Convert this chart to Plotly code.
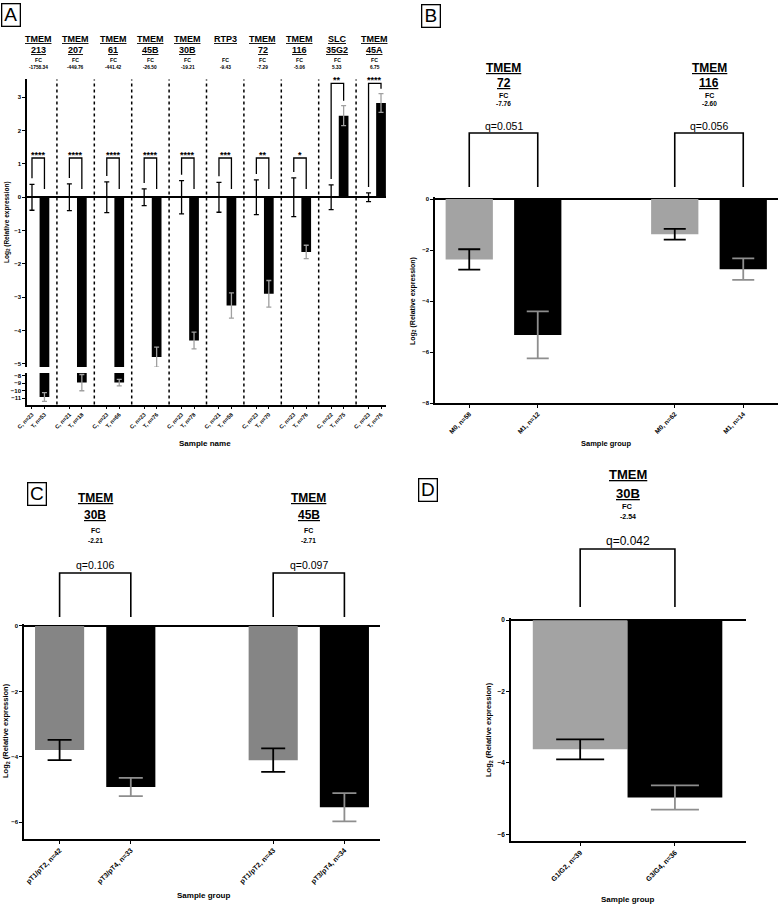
import plotly.graph_objects as go

W, H = 778, 905
FONT = "Liberation Sans, Arial, sans-serif"

# ---------------- Panel A data ----------------
a_gene_top = ["TMEM", "TMEM", "TMEM", "TMEM", "TMEM", "RTP3", "TMEM", "TMEM", "SLC", "TMEM"]
a_gene_bottom = ["213", "207", "61", "45B", "30B", "", "72", "116", "35G2", "45A"]
a_fc = ["-1758.34", "-449.76", "-441.42", "-26.50", "-19.21", "-9.43", "-7.29", "-5.06", "5.33", "6.75"]
a_ctrl_labels = ["C, n=23", "C, n=21", "C, n=23", "C, n=23", "C, n=23",
                 "C, n=21", "C, n=23", "C, n=23", "C, n=22", "C, n=23"]
a_tum_labels = ["T, n=53", "T, n=18", "T, n=66", "T, n=76", "T, n=78",
                "T, n=58", "T, n=70", "T, n=76", "T, n=75", "T, n=76"]
a_ctrl_mean = [0, 0, 0, 0, 0, 0, 0, 0, 0, 0]
a_ctrl_err = [0.39, 0.40, 0.46, 0.25, 0.50, 0.45, 0.52, 0.58, 0.37, 0.13]
a_tum_mean = [-10.85, -8.9, -8.9, -4.8, -4.3, -3.25, -2.9, -1.64, 2.45, 2.83]
a_tum_err = [0.6, 1.1, 0.45, 0.3, 0.25, 0.38, 0.4, 0.2, 0.3, 0.28]
a_stars = ["****", "****", "****", "****", "****", "***", "**", "*", "**", "****"]
a_bracket_top = [1.18, 1.18, 1.18, 1.18, 1.18, 1.18, 1.18, 1.18, 3.42, 3.42]

# ---------------- Panel B data ----------------
b_labels = ["M0, n=58", "M1, n=12", "M0, n=62", "M1, n=14"]
b_mean = [-2.37, -5.33, -1.38, -2.75]
b_err = [0.40, 0.92, 0.21, 0.42]
b_gene_top = ["TMEM", "TMEM"]
b_gene_bottom = ["72", "116"]
b_fc = ["-7.76", "-2.60"]
b_q = ["q=0.051", "q=0.056"]

# ---------------- Panel C data ----------------
c_labels = ["pT1/pT2, n=42", "pT3/pT4, n=33", "pT1/pT2, n=43", "pT3/pT4, n=34"]
c_mean = [-3.79, -4.92, -4.10, -5.54]
c_err = [0.31, 0.28, 0.36, 0.43]
c_gene_top = ["TMEM", "TMEM"]
c_gene_bottom = ["30B", "45B"]
c_fc = ["-2.21", "-2.71"]
c_q = ["q=0.106", "q=0.097"]

# ---------------- Panel D data ----------------
d_labels = ["G1/G2, n=39", "G3/G4, n=36"]
d_mean = [-3.62, -4.97]
d_err = [0.28, 0.34]
d_gene_top = ["TMEM"]
d_gene_bottom = ["30B"]
d_fc = ["-2.54"]
d_q = ["q=0.042"]


def px(x):
    return x / W


def py(y):
    return 1 - y / H


GRAY_B = "#a3a3a3"
GRAY_C = "#858585"
ERR_GRAY = "#8e8e8e"

fig = go.Figure()
annotations = []
shapes = []


def ann(text, x, y, xref="paper", yref="paper", size=8, bold=False, **kw):
    d = dict(text=text, x=x, y=y, xref=xref, yref=yref, showarrow=False,
             xanchor="center", yanchor="middle",
             font=dict(family=FONT, size=size, color="black", weight="bold" if bold else "normal"))
    d.update(kw)
    annotations.append(d)


# ---------------- Panel A ----------------
xc = [3 * i for i in range(10)]
xt = [3 * i + 1 for i in range(10)]
for ya in ["y", "y2"]:
    fig.add_trace(go.Bar(x=xc, y=a_ctrl_mean, width=0.78, marker_color="black",
                         error_y=dict(type="data", array=a_ctrl_err, color="black", thickness=1.3, width=2.5),
                         xaxis="x", yaxis=ya, showlegend=False, hoverinfo="skip"))
    fig.add_trace(go.Bar(x=xt, y=a_tum_mean, width=0.78, marker_color="black",
                         error_y=dict(type="data", array=a_tum_err, color="#a0a0a0", thickness=1.3, width=2.5),
                         xaxis="x", yaxis=ya, showlegend=False, hoverinfo="skip"))

for i in range(10):
    top = a_bracket_top[i]
    lb = a_ctrl_mean[i] + a_ctrl_err[i] + 0.18
    rb = 0.25 if a_tum_mean[i] < 0 else a_tum_mean[i] + a_tum_err[i] + 0.15
    fig.add_trace(go.Scatter(x=[xc[i], xc[i], xt[i], xt[i]], y=[lb, top, top, rb], mode="lines",
                             line=dict(color="black", width=1.3), xaxis="x", yaxis="y",
                             hoverinfo="skip", showlegend=False))
    ann(a_stars[i], (xc[i] + xt[i]) / 2, top, xref="x", yref="y", size=9, bold=True,
        yanchor="bottom", yshift=-4)
    cx = (xc[i] + xt[i]) / 2
    ann("<u>%s</u>" % a_gene_top[i], cx, py(39), xref="x", size=9, bold=True)
    if a_gene_bottom[i]:
        ann("<u>%s</u>" % a_gene_bottom[i], cx, py(50), xref="x", size=9, bold=True)
    ann("FC", cx, py(60.5), xref="x", size=5.2, bold=True)
    ann(a_fc[i], cx, py(68), xref="x", size=4.8, bold=True)

for i in range(9):
    shapes.append(dict(type="line", xref="x", yref="paper", x0=3 * i + 2, x1=3 * i + 2,
                       y0=py(404.5), y1=py(79.4), line=dict(color="black", width=1.5, dash="dot")))

a_tickvals = []
a_ticktext = []
for i in range(10):
    a_tickvals += [xc[i], xt[i]]
    a_ticktext += [a_ctrl_labels[i], a_tum_labels[i]]

ann("Sample name", px(205), py(444), size=8, bold=True)
ann("Log<sub>2</sub> (Relative expression)", px(7), py(222), size=6.5, bold=True, textangle=-90)


# ---------------- Panels B, C, D helper ----------------
def bar_panel(xa, ya, xpos, means, errs, gray, width, capw):
    gx = [xpos[i] for i in range(len(xpos)) if i % 2 == 0]
    gy = [means[i] for i in range(len(xpos)) if i % 2 == 0]
    ge = [errs[i] for i in range(len(xpos)) if i % 2 == 0]
    bx = [xpos[i] for i in range(len(xpos)) if i % 2 == 1]
    by = [means[i] for i in range(len(xpos)) if i % 2 == 1]
    be = [errs[i] for i in range(len(xpos)) if i % 2 == 1]
    fig.add_trace(go.Bar(x=gx, y=gy, width=width, marker_color=gray,
                         error_y=dict(type="data", array=ge, color="black", thickness=1.8, width=capw),
                         xaxis=xa, yaxis=ya, showlegend=False, hoverinfo="skip"))
    fig.add_trace(go.Bar(x=bx, y=by, width=width, marker_color="black",
                         error_y=dict(type="data", array=be, color=ERR_GRAY, thickness=1.8, width=capw),
                         xaxis=xa, yaxis=ya, showlegend=False, hoverinfo="skip"))


def headers(xa, xpos_pairs, tops, bottoms, fcs, qs, ys, bracket, sizes):
    yt, yb, yf, yv, yq = ys
    btop, bbot = bracket
    s_big, s_fc, s_q = sizes
    for k, (x0, x1) in enumerate(xpos_pairs):
        cx = (x0 + x1) / 2
        ann("<u>%s</u>" % tops[k], cx, py(yt), xref=xa, size=s_big, bold=True)
        ann("<u>%s</u>" % bottoms[k], cx, py(yb), xref=xa, size=s_big, bold=True)
        ann("FC", cx, py(yf), xref=xa, size=s_fc, bold=True)
        ann(fcs[k], cx, py(yv), xref=xa, size=s_fc - 0.5, bold=True)
        ann(qs[k], cx, py(yq), xref=xa, size=s_q)
        shapes.append(dict(type="path", xref=xa, yref="paper",
                           path="M %g,%g L %g,%g L %g,%g L %g,%g" % (x0, py(bbot), x0, py(btop), x1, py(btop), x1, py(bbot)),
                           line=dict(color="black", width=1.6)))


# Panel B
b_x = [0, 1, 3, 4]
bar_panel("x2", "y3", b_x, b_mean, b_err, GRAY_B, 0.69, 11)
headers("x2", [(0, 1), (3, 4)], b_gene_top, b_gene_bottom, b_fc, b_q,
        (68, 83, 96, 103, 126), (133, 187), (12, 7, 10.5))
ann("Sample group", px(606), py(444), size=7.5, bold=True)
ann("Log<sub>2</sub> (Relative expression)", px(413), py(301), size=7, bold=True, textangle=-90)

# Panel C
c_x = [0, 1, 3, 4]
bar_panel("x3", "y4", c_x, c_mean, c_err, GRAY_C, 0.69, 12)
headers("x3", [(0, 1), (3, 4)], c_gene_top, c_gene_bottom, c_fc, c_q,
        (498, 515, 530, 540, 565), (573, 617), (12, 7, 10.5))
ann("Sample group", px(203), py(895), size=8, bold=True)
ann("Log<sub>2</sub> (Relative expression)", px(6), py(731), size=7.5, bold=True, textangle=-90)

# Panel D
d_x = [0, 1]
bar_panel("x4", "y5", d_x, d_mean, d_err, GRAY_B, 1.0, 24)
headers("x4", [(0, 1)], d_gene_top, d_gene_bottom, d_fc, d_q,
        (474, 493, 506, 516, 541), (549, 607), (13, 7.5, 12))
ann("Sample group", px(627), py(899), size=8, bold=True)
ann("Log<sub>2</sub> (Relative expression)", px(489), py(730), size=7.5, bold=True, textangle=-90)

# Panel letters
for letter, (lx, ly) in zip(["A", "B", "C", "D"], [(1, 3), (421, 4), (27, 482), (418, 478)]):
    ann(letter, px(lx), py(ly), size=19, xanchor="left", yanchor="top",
        bordercolor="black", borderwidth=1.3, borderpad=0, width=17, height=21)


def yax(domain, rng, tickvals, size=6):
    return dict(domain=domain, range=rng, tickvals=tickvals, showline=True, linecolor="black",
                linewidth=1.5, ticks="outside", ticklen=3, tickwidth=1.2, tickcolor="black",
                showgrid=False, zeroline=True, zerolinecolor="black", zerolinewidth=1.6,
                tickfont=dict(family=FONT, size=size, color="black", weight="bold"),
                automargin=False, fixedrange=True)


def xax(domain, rng, tickvals, ticktext, anchor, size):
    return dict(domain=domain, range=rng, tickvals=tickvals, ticktext=ticktext, anchor=anchor,
                tickangle=-45, showline=True, linecolor="black", linewidth=1.5, ticks="outside",
                ticklen=3, tickwidth=1.2, tickcolor="black", showgrid=False, zeroline=False,
                tickfont=dict(family=FONT, size=size, color="black", weight="bold"),
                automargin=False, fixedrange=True)


layout = dict(
    width=W, height=H, margin=dict(l=0, r=0, t=0, b=0), template="none",
    paper_bgcolor="white", plot_bgcolor="rgba(0,0,0,0)", barmode="overlay", showlegend=False,
    font=dict(family=FONT, color="black"),
    xaxis=xax([px(27), px(386)], [-0.4, 28.4], a_tickvals, a_ticktext, "y2", 5.6),
    yaxis=dict(yax([py(367.1), py(79.4)], [-5.1, 3.54], [-5, -4, -3, -2, -1, 0, 1, 2, 3], 6), anchor="x"),
    yaxis2=dict(yax([py(404.5), py(373)], [-11.86, -7.6], [-8, -9, -10, -11], 6), anchor="x", zeroline=False),
    xaxis2=xax([px(435), px(777.5)], [-0.5, 4.5], b_x, b_labels, "y3", 6.5),
    yaxis3=dict(yax([py(403), py(197)], [-8, 0.08], [0, -2, -4, -6, -8], 6), anchor="x2"),
    xaxis3=xax([px(24), px(380)], [-0.5, 4.5], c_x, c_labels, "y4", 7),
    yaxis4=dict(yax([py(839), py(624)], [-6.51, 0.06], [0, -2, -4, -6], 6), anchor="x3"),
    xaxis4=xax([px(511), px(746)], [-0.73, 1.75], d_x, d_labels, "y5", 7),
    yaxis5=dict(yax([py(841), py(618)], [-6.19, 0.06], [0, -2, -4, -6], 6.5), anchor="x4"),
    annotations=annotations, shapes=shapes,
)
fig.update_layout(**layout)
fig.write_html("out.html", config={"displayModeBar": False},
               post_script="document.body.style.margin='0';document.body.style.overflow='hidden';")
